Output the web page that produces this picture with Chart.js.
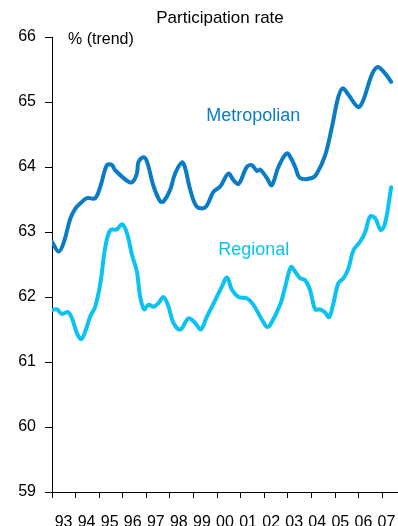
<!DOCTYPE html>
<html>
<head>
<meta charset="utf-8">
<script src="https://cdn.jsdelivr.net/npm/chart.js@4"></script>
<style>
  body { margin: 0; background: #fff; }
</style>
</head>
<body>
<canvas id="rateChart" width="398" height="526"></canvas>
<script>
// year labels, they sit between the tick marks
const yearLabels = ['93','94','95','96','97','98','99','00','01','02','03','04','05','06','07'];

// Metropolian, x = decimal year, y = % (trend)
const metroYears = [1993.00,1993.28,1993.49,1993.78,1993.99,1994.20,1994.48,1994.83,1995.05,1995.33,1995.54,1995.68,
    1996.25,1996.42,1996.60,1996.67,1996.88,1997.03,1997.31,1997.59,1997.73,1998.01,1998.22,1998.51,1998.65,1998.86,
    1999.14,1999.50,1999.85,2000.13,2000.48,2000.69,2000.91,2001.26,2001.47,2001.69,2001.83,2002.11,2002.32,2002.60,
    2002.96,2003.17,2003.31,2003.52,2004.02,2004.23,2004.58,2004.86,2005.14,2005.33,2005.57,2005.99,2006.20,2006.56,
    2006.81,2007.12,2007.38];
const metroValues = [62.85,62.70,62.83,63.21,63.36,63.44,63.52,63.52,63.70,64.03,64.03,63.95,
    63.77,63.77,63.90,64.08,64.15,64.08,63.70,63.47,63.47,63.65,63.90,64.07,63.98,63.65,
    63.39,63.38,63.62,63.70,63.90,63.80,63.74,64.00,64.03,63.94,63.96,63.83,63.72,64.00,
    64.21,64.11,64.00,63.83,63.83,63.90,64.18,64.60,65.08,65.21,65.11,64.92,65.03,65.42,
    65.54,65.44,65.31];

// Regional
const regionalYears = [1993.00,1993.21,1993.42,1993.68,1993.85,1994.06,1994.24,1994.41,1994.62,1994.83,1995.05,1995.26,
    1995.47,1995.75,1995.97,1996.18,1996.39,1996.60,1996.74,1996.91,1997.09,1997.31,1997.52,1997.73,1997.94,1998.15,
    1998.44,1998.79,1999.07,1999.31,1999.57,1999.92,2000.20,2000.42,2000.63,2000.91,2001.26,2001.54,2001.90,2002.11,
    2002.25,2002.67,2002.89,2003.13,2003.31,2003.52,2003.73,2003.94,2004.16,2004.37,2004.58,2004.75,2004.93,2005.14,
    2005.36,2005.57,2005.78,2006.06,2006.28,2006.49,2006.70,2006.94,2007.12,2007.38];
const regionalValues = [61.80,61.81,61.74,61.77,61.67,61.44,61.35,61.47,61.70,61.85,62.21,62.77,
    63.03,63.04,63.12,62.98,62.65,62.39,62.00,61.81,61.88,61.85,61.91,62.00,61.85,61.60,
    61.50,61.67,61.60,61.50,61.70,61.95,62.16,62.30,62.11,62.00,61.98,61.88,61.65,61.54,
    61.57,61.88,62.16,62.46,62.39,62.29,62.26,62.11,61.81,61.81,61.76,61.69,61.90,62.21,
    62.29,62.44,62.72,62.85,63.00,63.24,63.21,63.03,63.13,63.69];

const yMin = 59, yMax = 66;

const metroColor = '#0a7cc6';
const regionalColor = '#0cc2f2';
const fontFamily = '"Liberation Sans", Arial, sans-serif';

// titles and series names, drawn on top
const textPlugin = {
    id: 'chartTexts',
    afterDraw(chart) {
        let c = chart.ctx;
        let xs = chart.scales.x, ys = chart.scales.y;
        c.save();
        c.textBaseline = 'middle';
        c.fillStyle = '#000';
        c.textAlign = 'center';
        c.font = '17px ' + fontFamily;
        c.fillText('Participation rate', 220, 18);
        c.textAlign = 'left';
        c.font = '16px ' + fontFamily;
        c.fillText('% (trend)', 68, 40);
        c.font = '18px ' + fontFamily;
        c.fillStyle = metroColor;
        c.fillText('Metropolian', xs.getPixelForValue(1999.54), ys.getPixelForValue(64.78));
        c.fillStyle = regionalColor;
        c.fillText('Regional', xs.getPixelForValue(2000.05), ys.getPixelForValue(62.72));
        c.restore();
    }
};

// no side padding, the plot runs to the right edge
const noSidePadding = axis => { axis.paddingLeft = 0; axis.paddingRight = 0; };

let ctx = document.getElementById('rateChart').getContext('2d');
let chart = new Chart(ctx, {
    type: 'line',
    data: {
        datasets: [{
            label: 'Metropolian',
            data: metroYears.map((yr, i) => ({x: yr, y: metroValues[i]})),
            borderColor: metroColor,
            borderWidth: 4,
            tension: 0.35,
            pointRadius: 0,
            borderCapStyle: 'round',
            borderJoinStyle: 'round'
        }, {
            label: 'Regional',
            data: regionalYears.map((yr, i) => ({x: yr, y: regionalValues[i]})),
            borderColor: regionalColor,
            borderWidth: 4,
            tension: 0.35,
            pointRadius: 0,
            borderCapStyle: 'round',
            borderJoinStyle: 'round'
        }]
    },
    options: {
        responsive: false,
        animation: false,
        layout: { padding: { top: 37, left: 0, right: 0, bottom: 0 } },
        plugins: {
            legend: { display: false },
            tooltip: { enabled: false }
        },
        scales: {
            // tick marks only, one per year boundary
            x: {
                type: 'linear',
                position: 'bottom',
                weight: 0,
                min: 1993,
                max: 2007.67,
                grid: { drawOnChartArea: false, color: '#000', tickLength: 6 },
                border: { color: '#000' },
                ticks: { display: false },
                afterBuildTicks: axis => { axis.ticks = yearLabels.map((l, i) => ({value: 1993 + i})); },
                afterFit: noSidePadding
            },
            // year labels between the marks
            xLabels: {
                type: 'category',
                labels: yearLabels,
                position: 'bottom',
                weight: 1,
                offset: true,
                grid: { display: false },
                border: { display: false },
                ticks: { color: '#000', font: { size: 16, family: fontFamily }, padding: 7, maxRotation: 0, autoSkip: false },
                afterFit: axis => { axis.height = 28; noSidePadding(axis); }
            },
            y: {
                min: yMin,
                max: yMax,
                grid: { drawOnChartArea: false, color: '#000', tickLength: 7 },
                border: { color: '#000' },
                ticks: { stepSize: 1, color: '#000', font: { size: 16, family: fontFamily }, padding: 9 },
                afterFit: axis => { axis.width = 52; }
            }
        }
    },
    plugins: [textPlugin]
});
</script>
</body>
</html>
